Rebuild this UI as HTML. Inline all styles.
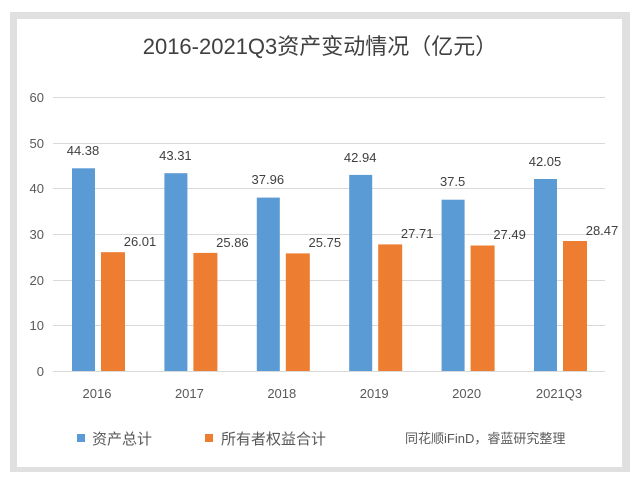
<!DOCTYPE html><html><head><meta charset="utf-8"><style>
body{margin:0;background:#fff;width:640px;height:486px;overflow:hidden;font-family:"Liberation Sans","Noto Sans CJK SC",sans-serif}
</style></head><body>
<svg width="640" height="486" xmlns="http://www.w3.org/2000/svg" font-family="Liberation Sans, Noto Sans CJK SC, sans-serif">
<rect x="10" y="12" width="620" height="460" fill="#e0e0e0"/>
<rect x="17" y="19" width="605" height="448" fill="#fff"/>
<text x="320" y="54" font-size="22" fill="#404040" text-anchor="middle">2016-2021Q3资产变动情况（亿元）</text>
<g stroke="#d9d9d9" stroke-width="1">
<line x1="53" x2="605" y1="97.5" y2="97.5"/><line x1="53" x2="605" y1="143.5" y2="143.5"/>
<line x1="53" x2="605" y1="188.5" y2="188.5"/><line x1="53" x2="605" y1="234.5" y2="234.5"/>
<line x1="53" x2="605" y1="280.5" y2="280.5"/><line x1="53" x2="605" y1="325.5" y2="325.5"/>
<line x1="53" x2="605" y1="371.5" y2="371.5"/></g>
<g font-size="13" fill="#595959" text-anchor="end">
<text x="44" y="102">60</text><text x="44" y="148">50</text><text x="44" y="193">40</text>
<text x="44" y="239">30</text><text x="44" y="285">20</text><text x="44" y="330">10</text><text x="44" y="376">0</text></g>
<g fill="#5b9bd5">
<rect x="72" y="168.3" width="23" height="202.7"/>
<rect x="164.4" y="173.2" width="23" height="197.8"/>
<rect x="256.8" y="197.6" width="23" height="173.4"/>
<rect x="349.2" y="174.9" width="23" height="196.1"/>
<rect x="441.6" y="199.7" width="23" height="171.3"/>
<rect x="534" y="179" width="23" height="192"/>
</g>
<g fill="#ed7d31">
<rect x="101" y="252.2" width="24" height="118.8"/>
<rect x="193.4" y="252.9" width="24" height="118.1"/>
<rect x="285.8" y="253.4" width="24" height="117.6"/>
<rect x="378.2" y="244.4" width="24" height="126.6"/>
<rect x="470.6" y="245.5" width="24" height="125.5"/>
<rect x="563" y="241" width="24" height="130"/>
</g>
<g font-size="13" fill="#404040" text-anchor="middle">
<text x="83" y="155">44.38</text><text x="175.4" y="160">43.31</text><text x="267.8" y="184">37.96</text>
<text x="360.2" y="162">42.94</text><text x="452.6" y="186">37.5</text><text x="545" y="166">42.05</text>
<text x="140" y="246">26.01</text><text x="232.4" y="247">25.86</text><text x="324.8" y="247">25.75</text>
<text x="417.2" y="238">27.71</text><text x="509.6" y="239">27.49</text><text x="602" y="235">28.47</text>
</g>
<g font-size="13" fill="#595959" text-anchor="middle">
<text x="97" y="398">2016</text><text x="189.4" y="398">2017</text><text x="281.8" y="398">2018</text>
<text x="374.2" y="398">2019</text><text x="466.6" y="398">2020</text><text x="559" y="398">2021Q3</text>
</g>
<rect x="77" y="434" width="8" height="8" fill="#5b9bd5"/>
<text x="92" y="444" font-size="15" fill="#595959">资产总计</text>
<rect x="205" y="434" width="8" height="8" fill="#ed7d31"/>
<text x="221" y="444" font-size="15" fill="#595959">所有者权益合计</text>
<text x="405" y="443" font-size="13" fill="#595959">同花顺iFinD，睿蓝研究整理</text>
</svg>
</body></html>
